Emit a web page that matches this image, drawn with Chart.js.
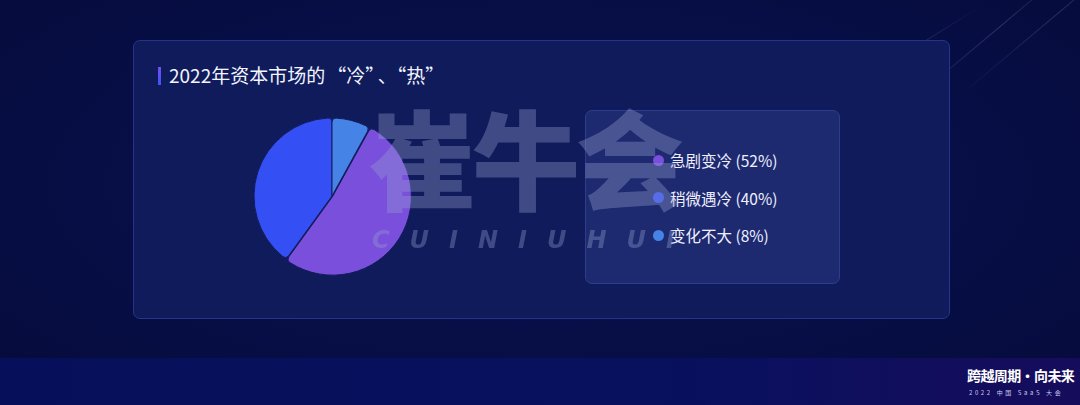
<!DOCTYPE html>
<html lang="zh-CN">
<head>
<meta charset="utf-8">
<script src="https://cdn.jsdelivr.net/npm/chart.js@4"></script>
<style>
  html, body { margin: 0; padding: 0; }
  body {
    width: 1080px; height: 405px; overflow: hidden; position: relative;
    background: radial-gradient(ellipse at 50% 45%, #0b1452 0%, #070e45 60%, #050b3a 100%);
    font-family: "Noto Sans CJK SC", "Noto Sans", sans-serif;
  }
  .streak { position: absolute; height: 1px; width: 260px; transform-origin: left center;
    background: linear-gradient(90deg, rgba(255,255,255,0), rgba(180,190,255,0.18), rgba(255,255,255,0)); }
  .band { position: absolute; left: 0; top: 358px; width: 1080px; height: 47px;
    background: linear-gradient(90deg, #06105a 0%, #07115e 60%, #160c5c 100%); }
  .card { position: absolute; left: 133px; top: 40px; width: 817px; height: 279px;
    background: #101b5c; border: 1px solid #26338a; border-radius: 7px; box-sizing: border-box; }
  .title { position: absolute; left: 169px; top: 62px; color: #f2f4ff; font-size: 19px; line-height: 26px; white-space: nowrap; }
  .bar { position: absolute; left: 158px; top: 67px; width: 3px; height: 18px;
    background: linear-gradient(180deg, #7150f0, #3d55f4); }
  #pieBox { position: absolute; left: 232px; top: 96px; width: 200px; height: 200px; }
  .legend { position: absolute; left: 585px; top: 110px; width: 255px; height: 174px; box-sizing: border-box;
    background: #1e2a70; border: 1px solid #2e3c8c; border-radius: 7px; }
  .item { position: absolute; left: 67px; height: 22px; display: flex; align-items: center;
    color: #eef0ff; font-size: 15.5px; white-space: nowrap; }
  .dot { width: 11px; height: 11px; border-radius: 50%; margin-right: 6px; }
  .wm { position: absolute; left: 368px; top: 100px; font-size: 108px; font-weight: 900;
    color: rgba(150,160,210,0.36); letter-spacing: -4px; line-height: 110px; pointer-events: none; white-space: nowrap; }
  .wm2 { position: absolute; left: 372px; top: 226px; font-family: "DejaVu Sans", sans-serif; font-size: 24px;
    font-weight: bold; font-style: italic; color: rgba(150,160,210,0.36); letter-spacing: 20px; pointer-events: none; white-space: nowrap; }
  .logo1 { position: absolute; left: 967px; top: 366px; color: #ffffff; font-size: 14px; line-height: 18px; font-weight: bold;
    letter-spacing: -0.6px; white-space: nowrap; }
  .logo2 { position: absolute; left: 969px; top: 389px; color: #c8ccee; font-size: 6px; line-height: 8px;
    letter-spacing: 2.6px; white-space: nowrap; }
</style>
</head>
<body>
<div class="streak" style="left:900px;top:110px;transform:rotate(-40deg)"></div>
<div class="streak" style="left:960px;top:95px;transform:rotate(-40deg)"></div>
<div class="streak" style="left:830px;top:100px;width:180px;transform:rotate(-32deg)"></div>
<div class="band"></div>
<div class="card"></div>
<div class="bar"></div>
<div class="title">2022年资本市场的<span style="margin-left:2px">“</span>冷<span style="margin-right:3px">”</span>、“热”</div>
<div id="pieBox"><canvas id="pieChart"></canvas></div>
<div class="legend" id="legend"></div>
<div class="wm">崔牛会</div>
<div class="wm2">CUINIUHUI</div>
<div class="logo1">跨越周期·向未来</div>
<div class="logo2">2022 中国 SaaS 大会</div>
<script>
const categories = ['急剧变冷', '稍微遇冷', '变化不大'];
const shares = [52, 40, 8];
const sliceColors = ['#7a4fdb', '#3450f4', '#4683e6'];

// legend built from the same arrays
const legend = document.getElementById('legend');
categories.forEach((name, i) => {
    const row = document.createElement('div');
    row.className = 'item';
    row.style.top = (38 + i * 37.5) + 'px';
    row.innerHTML = '<span class="dot" style="background:' + sliceColors[i] + '"></span>' +
        name + ' (' + shares[i] + '%)';
    legend.appendChild(row);
});

const ctx = document.getElementById('pieChart').getContext('2d');
const pieChart = new Chart(ctx, {
    type: 'pie',
    data: {
        labels: categories,
        datasets: [{
            data: shares,
            backgroundColor: sliceColors,
            borderColor: '#141d5c',
            borderWidth: 1,
            borderRadius: 4,
            offset: [3, 0, 0],
            radius: 78
        }]
    },
    options: {
        responsive: true,
        maintainAspectRatio: false,
        animation: false,
        rotation: 28.8, // so the small slice sits right of 12 o'clock
        plugins: {
            legend: { display: false },
            tooltip: { enabled: false }
        }
    }
});
</script>
</body>
</html>
